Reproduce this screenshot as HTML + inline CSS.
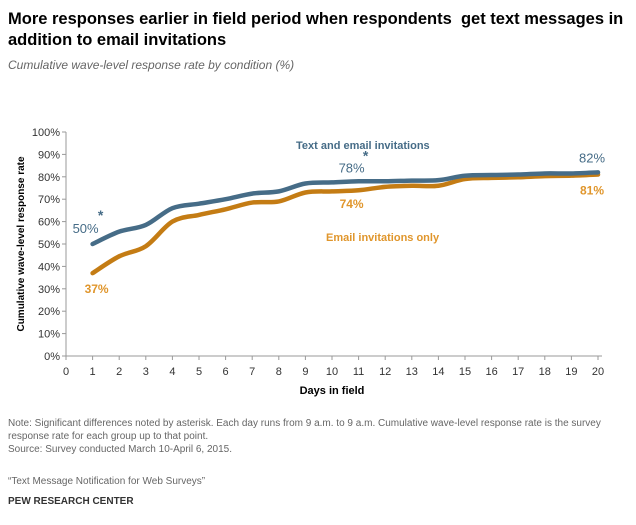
<!DOCTYPE html>
<html><head><meta charset="utf-8">
<style>
body{margin:0;background:#fff;font-family:"Liberation Sans",Arial,sans-serif;}
#wrap{position:relative;width:636px;height:525px;overflow:hidden;}
.t{position:absolute;}
</style></head>
<body>
<div id="wrap">
<div class="t" style="left:8px;top:9px;width:620px;font-size:16.5px;font-weight:bold;line-height:21px;color:#000;">More responses earlier in field period when respondents&nbsp; get text messages in addition to email invitations</div>
<div class="t" style="left:8px;top:58px;font-size:12px;font-style:italic;color:#666;">Cumulative wave-level response rate by condition (%)</div>
<svg id="chart" width="636" height="525" style="position:absolute;left:0;top:0"></svg>
<div class="t" style="left:8px;top:417px;width:620px;font-size:10px;line-height:13px;color:#666;">Note: Significant differences noted by asterisk. Each day runs from 9 a.m. to 9 a.m. Cumulative wave-level response rate is the survey response rate for each group up to that point.<br>Source: Survey conducted March 10-April 6, 2015.</div>
<div class="t" style="left:8px;top:476px;font-size:10px;color:#666;">“Text Message Notification for Web Surveys”</div>
<div class="t" style="left:8px;top:496px;font-size:10px;font-weight:bold;color:#333;">PEW RESEARCH CENTER</div>
</div>
<script>
const days=[1,2,3,4,5,6,7,8,9,10,11,12,13,14,15,16,17,18,19,20];
const textEmail=[50,55.5,58.5,66,68,70,72.5,73.5,77,77.5,78,78,78.3,78.5,80.5,80.8,81,81.5,81.5,82];
const emailOnly=[37,44.5,49,60,63,65.5,68.5,69,73,73.5,74,75.5,76,76,79,79.5,79.8,80.3,80.5,81];
const xTicks=[0,1,2,3,4,5,6,7,8,9,10,11,12,13,14,15,16,17,18,19,20];
const yTicks=[0,10,20,30,40,50,60,70,80,90,100];
const svg=document.getElementById('chart');
const NS='http://www.w3.org/2000/svg';
const X=d=>66+d*26.6, Y=v=>356-v*2.24;
function mk(tag,attrs,txt){const e=document.createElementNS(NS,tag);for(const k in attrs)e.setAttribute(k,attrs[k]);if(txt!==undefined)e.textContent=txt;svg.appendChild(e);return e;}
let e;
e=mk('line',{x1:X(0),y1:Y(0),x2:X(20)+4,y2:Y(0),stroke:'#999'});


e=mk('line',{x1:X(0),y1:Y(0),x2:X(0),y2:Y(100),stroke:'#999'});


yTicks.forEach(v=>{
 mk('line',{x1:X(0)-4,y1:Y(v),x2:X(0),y2:Y(v),stroke:'#999'});
 e=mk('text',{x:X(0)-6,y:Y(v)+4,'text-anchor':'end','font-size':11,fill:'#333'},v+'%');
 
 
});
xTicks.forEach(d=>{
 mk('line',{x1:X(d),y1:Y(0),x2:X(d),y2:Y(0)+4,stroke:'#999'});
 e=mk('text',{x:X(d),y:Y(0)+19,'text-anchor':'middle','font-size':11,fill:'#333'},d);
 
 
});
e=mk('text',{x:X(10),y:394,'text-anchor':'middle','font-size':11,'font-weight':'bold',fill:'#000'},'Days in field');


e=mk('text',{x:0,y:0,'text-anchor':'middle','font-size':10,'font-weight':'bold',fill:'#000',transform:'translate(24,'+Y(50)+') rotate(-90)'},'Cumulative wave-level response rate');


function smooth(vals){
 const p=days.map((d,i)=>[X(d),Y(vals[i])]);
 let s='M'+p[0][0]+','+p[0][1];
 for(let i=0;i<p.length-1;i++){
  const p0=p[i-1]||p[i],p1=p[i],p2=p[i+1],p3=p[i+2]||p2;
  const c1=[p1[0]+(p2[0]-p0[0])/6,p1[1]+(p2[1]-p0[1])/6];
  const c2=[p2[0]-(p3[0]-p1[0])/6,p2[1]-(p3[1]-p1[1])/6];
  s+=' C'+c1+' '+c2+' '+p2;
 }
 return s;
}
e=mk('path',{d:smooth(emailOnly),fill:'none',stroke:'#c47c14','stroke-width':4.5,'stroke-linecap':'round'});


e=mk('path',{d:smooth(textEmail),fill:'none',stroke:'#466c87','stroke-width':4.5,'stroke-linecap':'round'});


const B='#466c87',O='#e0962c';
function lab(x,y,t,c,name,anchor,size,bold){e=mk('text',{x:x,y:y,'text-anchor':anchor||'middle','font-size':size||13,'font-weight':bold?'bold':'normal',fill:c},t);
 
 }
lab(X(1)-7,Y(textEmail[0])-11,Math.round(textEmail[0])+'%',B,'label-text-day1');
lab(X(1)+8,Y(textEmail[0])-24,'*',B,'asterisk-day1',null,14,true);
lab(X(1)+4,Y(emailOnly[0])+20,Math.round(emailOnly[0])+'%',O,'label-email-day1',null,12,true);
lab(X(11)-7,Y(textEmail[10])-9,Math.round(textEmail[10])+'%',B,'label-text-day11');
lab(X(11)+7,Y(textEmail[10])-21,'*',B,'asterisk-day11',null,14,true);
lab(X(11)-7,Y(emailOnly[10])+18,Math.round(emailOnly[10])+'%',O,'label-email-day11',null,12,true);
lab(X(20)-6,Y(textEmail[19])-10,Math.round(textEmail[19])+'%',B,'label-text-day20');
lab(X(20)-6,Y(emailOnly[19])+20,Math.round(emailOnly[19])+'%',O,'label-email-day20',null,12,true);
lab(296,149,'Text and email invitations',B,'legend-text-and-email','start',11,true);
lab(326,241,'Email invitations only',O,'legend-email-only','start',11,true);
</script>
</body></html>
